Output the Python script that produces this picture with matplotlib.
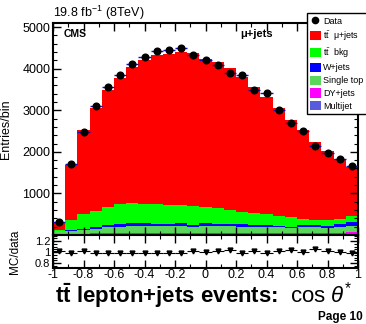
import numpy as np
import matplotlib
matplotlib.use("Agg")
import matplotlib.pyplot as plt
from matplotlib.patches import Patch
from matplotlib.lines import Line2D
from matplotlib.ticker import MultipleLocator

plt.rcParams['font.family'] = ['Liberation Sans', 'DejaVu Sans']
plt.rcParams['mathtext.fontset'] = 'custom'
plt.rcParams['mathtext.rm'] = 'Liberation Sans'
plt.rcParams['mathtext.it'] = 'Liberation Sans:italic'
plt.rcParams['mathtext.bf'] = 'Liberation Sans:bold'

# binning: 25 bins of cos(theta*) from -1 to 1
edges = np.linspace(-1, 1, 26)

# event yields per bin
data = [310, 1698, 2467, 3092, 3557, 3838, 4103, 4278, 4415, 4447, 4495, 4327, 4215,
        4086, 3886, 3853, 3492, 3412, 2996, 2691, 2499, 2131, 1977, 1825, 1665]
tt_signal = [195, 1329, 2028, 2461, 2806, 3038, 3263, 3464, 3584, 3631, 3688, 3685, 3568,
             3511, 3407, 3260, 3045, 2822, 2605, 2341, 2149, 1884, 1643, 1444, 1186]
tt_bkg = [15, 225, 345, 400, 435, 480, 495, 480, 480, 450, 440, 450, 400,
          375, 345, 290, 275, 265, 225, 225, 135, 120, 145, 120, 135]
wjets = [15, 30, 40, 45, 60, 60, 65, 65, 60, 60, 60, 50, 55,
         55, 50, 55, 50, 50, 40, 35, 50, 55, 45, 80, 110]
single_top = [70, 65, 80, 100, 140, 155, 170, 170, 165, 170, 175, 160, 180,
              170, 165, 160, 155, 150, 140, 125, 145, 135, 125, 135, 135]
dyjets = [3, 5, 5, 6, 6, 7, 7, 7, 7, 7, 7, 7, 7,
          7, 7, 7, 7, 7, 7, 8, 8, 10, 12, 15, 20]
multijet = [20, 30, 30, 35, 35, 35, 35, 35, 35, 35, 35, 35, 35,
            35, 35, 35, 35, 35, 35, 35, 35, 40, 40, 45, 50]

# stack order bottom -> top
stack = [
    (multijet, '#5a5adc', 'Multijet'),
    (dyjets, '#ff00ff', 'DY+jets'),
    (single_top, '#5ad65a', 'Single top'),
    (wjets, '#0000ff', 'W+jets'),
    (tt_bkg, '#00ff00', r'$\mathrm{t\bar{t}}$  bkg'),
    (tt_signal, '#ff0000', r'$\mathrm{t\bar{t}}$  μ+jets'),
]

W, H = 366, 324
fig = plt.figure(figsize=(W / 100, H / 100), dpi=100)
ax = fig.add_axes([53 / W, 1 - 235 / H, 305 / W, 212 / H])
axr = fig.add_axes([53 / W, 1 - 268 / H, 305 / W, 33 / H], sharex=ax)

bottom = np.zeros(len(data))
for vals, col, lab in stack:
    top = bottom + np.array(vals, dtype=float)
    ax.stairs(top, edges, baseline=bottom, fill=True, color=col, lw=0)
    bottom = top
mc_total = bottom

centers = 0.5 * (edges[1:] + edges[:-1])
half = 0.5 * (edges[1] - edges[0])
ax.errorbar(centers, data, xerr=half, fmt='o', color='black', ms=4.8,
            ecolor='#1010c0', elinewidth=1.0, capsize=0, zorder=5)

ax.set_xlim(-1, 1)
ax.set_ylim(0, 5100)
ax.yaxis.set_major_locator(MultipleLocator(1000))
ax.yaxis.set_minor_locator(MultipleLocator(200))
ax.xaxis.set_major_locator(MultipleLocator(0.2))
ax.xaxis.set_minor_locator(MultipleLocator(0.04))
ax.set_yticks([1000, 2000, 3000, 4000, 5000])
ax.tick_params(which='both', direction='in', top=True, right=True, labelsize=9, pad=2)
ax.tick_params(which='major', length=6, width=1)
ax.tick_params(which='minor', length=3, width=0.8)
plt.setp(ax.get_xticklabels(), visible=False)
ax.set_ylabel('Entries/bin', fontsize=9)
ax.yaxis.set_label_coords(-0.135, 0.5)
for s in ax.spines.values():
    s.set_linewidth(1.5)

# ratio panel
ratio = mc_total / np.array(data, dtype=float)
axr.errorbar(centers, ratio, xerr=half, fmt='v', color='black', ms=3.5,
             elinewidth=0.8, capsize=0)
axr.set_ylim(0.71, 1.31)
axr.set_yticks([0.8, 1.0, 1.2])
axr.set_yticklabels(['0.8', '1', '1.2'])
axr.yaxis.set_minor_locator(MultipleLocator(0.05))
axr.xaxis.set_minor_locator(MultipleLocator(0.1))
axr.set_xticks(np.round(np.arange(-1, 1.01, 0.2), 1))
axr.set_xticklabels(['-1', '-0.8', '-0.6', '-0.4', '-0.2', '0', '0.2', '0.4', '0.6', '0.8', '1'])
axr.tick_params(which='both', direction='in', top=True, right=True, pad=2)
axr.tick_params(axis='x', labelsize=9, pad=1)
axr.tick_params(axis='y', labelsize=8)
axr.tick_params(which='major', length=6, width=1)
axr.tick_params(which='minor', length=3, width=0.8)
axr.set_ylabel('MC/data', fontsize=8.5)
axr.yaxis.set_label_coords(-0.105, 0.5)
for s in axr.spines.values():
    s.set_linewidth(1.5)

# texts
fig.text(53 / W, 1 - 17 / H, r'19.8 fb$^{-1}$ (8TeV)', fontsize=9, va='baseline')
fig.text(64 / W, 1 - 37 / H, 'CMS', fontsize=7.5, fontweight='bold', va='baseline')
fig.text(240 / W, 1 - 37 / H, 'μ+jets', fontsize=8, fontweight='bold', va='baseline')
fig.text(55 / W, 1 - 303 / H, r'$\mathbf{t\bar{t}}$ lepton+jets events:', fontsize=16,
         fontweight='bold', va='baseline')
fig.text(290 / W, 1 - 303 / H, r'cos $\theta^{*}$', fontsize=16, va='baseline')
fig.text(318 / W, 1 - 320 / H, 'Page 10', fontsize=8.5, fontweight='bold', va='baseline')

# legend
handles = [Line2D([], [], marker='o', color='black', ls='none', ms=4.5)]
labels = ['Data']
for vals, col, lab in reversed(stack):
    handles.append(Patch(facecolor=col, edgecolor='none'))
    labels.append(lab)
leg = fig.legend(handles, labels, loc='upper left', bbox_to_anchor=(307 / W, 1 - 13 / H),
                 fontsize=6.5, frameon=True, fancybox=False, framealpha=1,
                 edgecolor='black', handlelength=1.15, handleheight=1.2,
                 handletextpad=0.3, labelspacing=0.35, borderpad=0.35, borderaxespad=0)
leg.get_frame().set_linewidth(1.0)

fig.savefig('out.png', dpi=100)
